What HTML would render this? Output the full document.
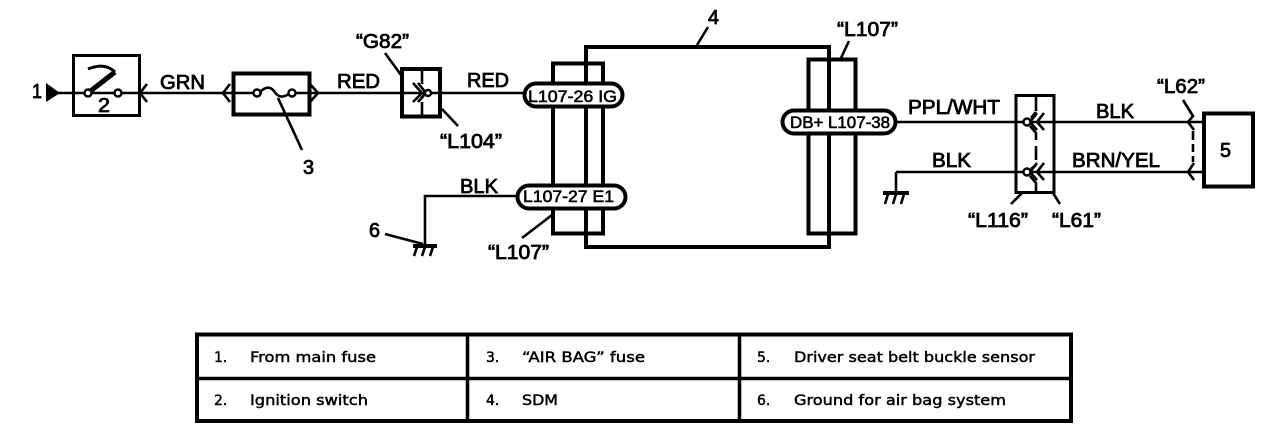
<!DOCTYPE html>
<html>
<head>
<meta charset="utf-8">
<style>
html,body{margin:0;padding:0;background:#fff;width:1280px;height:436px;overflow:hidden}
svg{display:block}
text{font-family:"Liberation Sans",sans-serif;font-size:20px;fill:#000;stroke:#000;stroke-width:.8px}
.p{font-size:17px;stroke-width:.6px}
.t{font-family:"DejaVu Sans",sans-serif;font-size:14px;stroke-width:.45px}
.l{fill:none;stroke:#000;stroke-width:2.6}
.b{fill:none;stroke:#000;stroke-width:4}
.c{fill:#fff;stroke:#000;stroke-width:2.4}
</style>
</head>
<body>
<svg width="1280" height="436" viewBox="0 0 1280 436" xmlns="http://www.w3.org/2000/svg">
<rect width="1280" height="436" fill="#fff"/>

<!-- main wires -->
<path class="l" d="M58 93H232M233 93H401M440 93H523"/>
<path class="l" d="M897 122H1203M896 172H1203M896 172V193"/>
<path class="l" d="M516 196H425V245"/>

<!-- source arrow -->
<polygon points="46,83 60,93 46,102" fill="#000"/>

<!-- switch -->
<rect x="73.500" y="55.500" width="66" height="60" fill="none" stroke="#000" stroke-width="3"/>
<path d="M88 93L115 72" fill="none" stroke="#000" stroke-width="5"/>
<path d="M88 69Q105 62 115 72" fill="none" stroke="#000" stroke-width="3"/>
<circle cx="88" cy="93" r="3.500" class="c"/>
<circle cx="118" cy="93" r="3.500" class="c"/>
<path class="l" d="M147 84L140 93L147 102"/>

<!-- fuse -->
<rect x="233.500" y="73.500" width="76" height="41" class="b"/>
<path class="l" d="M230 84L223 93L230 102M310 84L318 93L310 102"/>
<rect x="262" y="86" width="26" height="14" fill="#fff"/>
<path class="l" d="M260 92Q268 84 274 91Q280 101 290 93"/>
<circle cx="257" cy="93" r="3.500" class="c"/>
<circle cx="292" cy="93" r="3.500" class="c"/>
<path class="l" d="M278 98L302 150"/>

<!-- G82 / L104 connector -->
<rect x="402" y="69" width="38" height="47.500" class="b" style="fill:#fff"/>
<path class="l" d="M402 93H440"/>
<path class="l" d="M422 69V84M422 102V117"/>
<path class="l" d="M413 83L422 93L413 102M418 83L426 93L418 102"/>
<circle cx="428" cy="93" r="3" class="c"/>
<path class="l" d="M385 53L401 75M442 109L458 126"/>

<!-- SDM -->
<path class="b" d="M586 47H829V247H586Z"/>
<rect x="553" y="63.500" width="50" height="170" class="b"/>
<rect x="808.500" y="59.500" width="47" height="174" class="b"/>
<rect x="524.500" y="83.500" width="98" height="23" rx="11.500" ry="11.500" fill="#fff" stroke="#000" stroke-width="4"/>
<rect x="517.500" y="185.500" width="108" height="23" rx="11.500" ry="11.500" fill="#fff" stroke="#000" stroke-width="4"/>
<rect x="782.500" y="110.500" width="113" height="23" rx="11.500" ry="11.500" fill="#fff" stroke="#000" stroke-width="4"/>
<path class="l" d="M552 215L522 238M849 41L841 58M697 45L708 27"/>

<!-- grounds -->
<path d="M413 246H437" stroke="#000" stroke-width="4" fill="none"/>
<path class="l" d="M417 247L414 256M425 247L422 256M433 247L430 256"/>
<path class="l" d="M385 234L423 244"/>
<path d="M883 193H909" stroke="#000" stroke-width="4" fill="none"/>
<path class="l" d="M888 194L885 204M896 194L893 204M904 194L901 204"/>

<!-- L116 / L61 connector -->
<rect x="1016" y="95.500" width="38" height="97" fill="none" stroke="#000" stroke-width="3"/>
<path class="l" d="M1036 96V111M1030 126L1036 133V140M1036 146V160M1036 165L1031 169M1030 176L1036 183V192"/>
<path class="l" d="M1031 118L1036 112"/>
<path class="l" d="M1037 113L1030 122L1037 130M1044 113L1037 122L1044 130"/>
<path class="l" d="M1037 163L1030 172L1037 180M1044 163L1037 172L1044 180"/>
<circle cx="1027" cy="122" r="3.500" class="c"/>
<circle cx="1027" cy="172" r="3.500" class="c"/>
<path class="l" d="M1022 193L1011 204M1053 193L1060 204"/>

<!-- L62 -->
<path class="l" d="M1183 100L1193 116L1188 122L1194 130"/>
<path class="l" d="M1193 131V140M1193 144V152M1193 156V162"/>
<path class="l" d="M1194 163L1188 172L1194 180"/>

<!-- sensor -->
<rect x="1204" y="113.500" width="49" height="73" class="b" style="fill:#fff"/>

<!-- labels -->
<text x="32" y="98" textLength="10" lengthAdjust="spacingAndGlyphs">1</text>
<text x="98" y="112" textLength="12" lengthAdjust="spacingAndGlyphs">2</text>
<text x="303" y="174" textLength="11" lengthAdjust="spacingAndGlyphs">3</text>
<text x="708" y="24" textLength="11" lengthAdjust="spacingAndGlyphs">4</text>
<text x="1220" y="157" textLength="11" lengthAdjust="spacingAndGlyphs">5</text>
<text x="369" y="237" textLength="11" lengthAdjust="spacingAndGlyphs">6</text>

<text x="160" y="89" textLength="45" lengthAdjust="spacingAndGlyphs">GRN</text>
<text x="337" y="88" textLength="43" lengthAdjust="spacingAndGlyphs">RED</text>
<text x="467" y="87" textLength="42" lengthAdjust="spacingAndGlyphs">RED</text>
<text x="460" y="193" textLength="38" lengthAdjust="spacingAndGlyphs">BLK</text>
<text x="908" y="114" textLength="92" lengthAdjust="spacingAndGlyphs">PPL/WHT</text>
<text x="932" y="167" textLength="39" lengthAdjust="spacingAndGlyphs">BLK</text>
<text x="1096" y="118" textLength="38" lengthAdjust="spacingAndGlyphs">BLK</text>
<text x="1072" y="167" textLength="88" lengthAdjust="spacingAndGlyphs">BRN/YEL</text>

<text x="356" y="48" textLength="53" lengthAdjust="spacingAndGlyphs">“G82”</text>
<text x="440" y="148" textLength="62" lengthAdjust="spacingAndGlyphs">“L104”</text>
<text x="488" y="259" textLength="61" lengthAdjust="spacingAndGlyphs">“L107”</text>
<text x="837" y="36" textLength="61" lengthAdjust="spacingAndGlyphs">“L107”</text>
<text x="968" y="227" textLength="60" lengthAdjust="spacingAndGlyphs">“L116”</text>
<text x="1052" y="227" textLength="49" lengthAdjust="spacingAndGlyphs">“L61”</text>
<text x="1157" y="93" textLength="48" lengthAdjust="spacingAndGlyphs">“L62”</text>

<text class="p" x="528" y="102" textLength="89" lengthAdjust="spacingAndGlyphs">L107-26  IG</text>
<text class="p" x="523" y="202" textLength="91" lengthAdjust="spacingAndGlyphs">L107-27  E1</text>
<text class="p" x="790" y="128" textLength="100" lengthAdjust="spacingAndGlyphs">DB+ L107-38</text>

<!-- table -->
<rect x="197" y="334.500" width="874" height="86.500" fill="#fff" stroke="#000" stroke-width="4"/>
<path d="M197 378.500H1071M467.500 334V421M739.500 334V421" fill="none" stroke="#000" stroke-width="3.500"/>
<text class="t" x="214" y="362">1.</text>
<text class="t" x="250" y="362" textLength="126" lengthAdjust="spacingAndGlyphs">From main fuse</text>
<text class="t" x="214" y="405">2.</text>
<text class="t" x="250" y="405" textLength="118" lengthAdjust="spacingAndGlyphs">Ignition switch</text>
<text class="t" x="486" y="362">3.</text>
<text class="t" x="522" y="362" textLength="123" lengthAdjust="spacingAndGlyphs">“AIR BAG” fuse</text>
<text class="t" x="486" y="405">4.</text>
<text class="t" x="522" y="405" textLength="36" lengthAdjust="spacingAndGlyphs">SDM</text>
<text class="t" x="757" y="362">5.</text>
<text class="t" x="794" y="362" textLength="241" lengthAdjust="spacingAndGlyphs">Driver seat belt buckle sensor</text>
<text class="t" x="757" y="405">6.</text>
<text class="t" x="794" y="405" textLength="212" lengthAdjust="spacingAndGlyphs">Ground for air bag system</text>
</svg>
</body>
</html>
